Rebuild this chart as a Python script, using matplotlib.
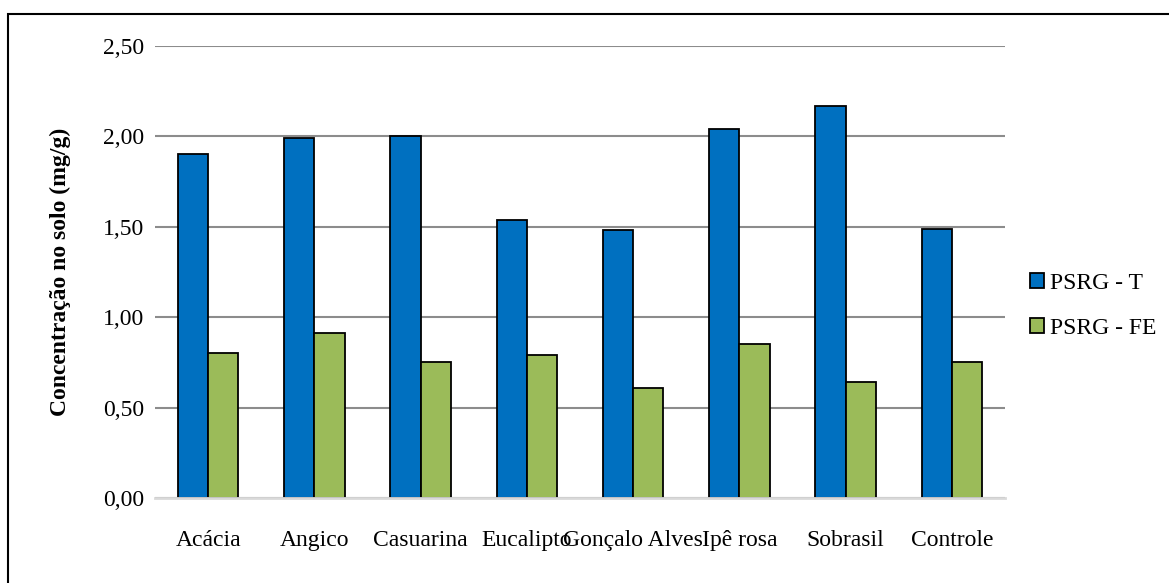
import numpy as np
import matplotlib.pyplot as plt
from matplotlib.patches import Rectangle


# Soil concentration per species, two fractions
especies = ["Acácia", "Angico", "Casuarina", "Eucalipto", "Gonçalo Alves",
            "Ipê rosa", "Sobrasil", "Controle"]
psrg_t = [1.90, 1.99, 2.00, 1.54, 1.48, 2.04, 2.17, 1.49]
psrg_fe = [0.80, 0.91, 0.75, 0.79, 0.61, 0.85, 0.64, 0.75]
yticks = [0.0, 0.5, 1.0, 1.5, 2.0, 2.5]
ytick_labels = ["0,00", "0,50", "1,00", "1,50", "2,00", "2,50"]


plt.rcParams['font.family'] = ['Liberation Serif', 'DejaVu Serif']
fs = 17

fig = plt.figure(figsize=(11.69, 5.83), dpi=100)
ax = fig.add_axes([155 / 1169, 1 - 498 / 583, 850 / 1169, 452 / 583])

x = np.arange(len(especies))
w = 1 / 3.5
ax.bar(x - w / 2, psrg_t, w, color="#0070c0", edgecolor="black", linewidth=1.3,
       label="PSRG - T", zorder=3)
ax.bar(x + w / 2, psrg_fe, w, color="#9bbb59", edgecolor="black", linewidth=1.3,
       label="PSRG - FE", zorder=3)

ax.set_xlim(-0.5, len(especies) - 0.5)
ax.set_ylim(0, 2.5)
ax.set_yticks(yticks)
ax.set_yticklabels(ytick_labels, fontsize=fs)
ax.set_xticks(x)
ax.set_xticklabels(especies, fontsize=fs)
ax.tick_params(axis='y', length=0, pad=8)
ax.tick_params(axis='x', length=0, pad=23)
ax.yaxis.grid(True, color="#8c8c8c", linewidth=1.5, zorder=0)
for s in ["top", "right", "left"]:
    ax.spines[s].set_visible(False)
ax.spines["bottom"].set_color("#d9d9d9")
ax.spines["bottom"].set_linewidth(2)
ax.spines["bottom"].set_zorder(4)

ax.set_ylabel("Concentração no solo (mg/g)", fontsize=fs, fontweight="bold",
              labelpad=23)

leg = ax.legend(loc="center left", bbox_to_anchor=(1.004, 0.425), frameon=False,
                fontsize=fs, handlelength=0.6, handleheight=0.6,
                handletextpad=0.25, labelspacing=1.0)

# outer chart border
fig.patches.append(Rectangle((8 / 1169, -0.05), 1.2, 1 - 14 / 583 + 0.05,
                             transform=fig.transFigure, fill=False,
                             edgecolor="black", linewidth=1.5))

fig.savefig("out.png", dpi=100)
